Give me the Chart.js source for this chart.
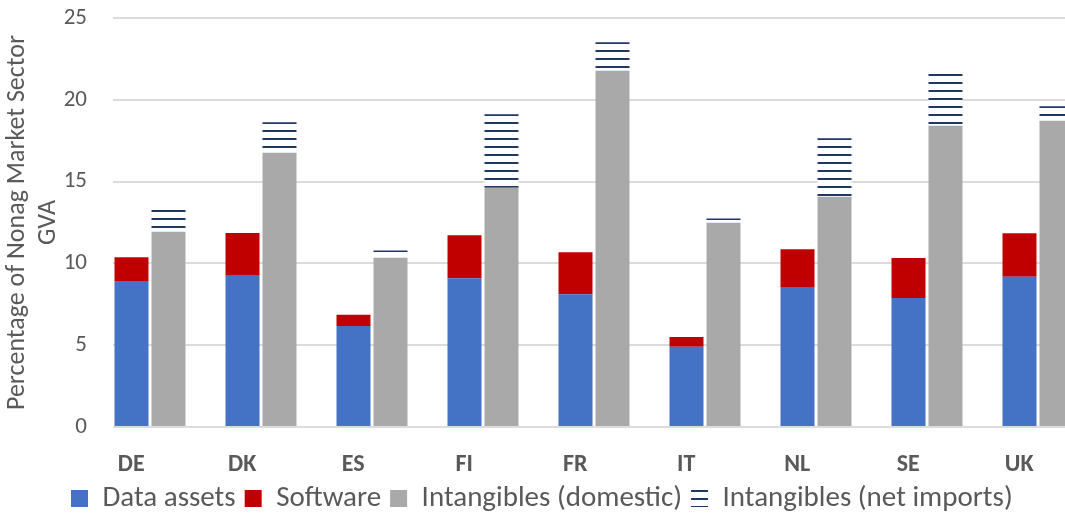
<!DOCTYPE html>
<html>
<head>
<meta charset="utf-8">
<script src="https://cdn.jsdelivr.net/npm/chart.js@4/dist/chart.umd.min.js"></script>
<style>
  html, body { margin: 0; padding: 0; background: #ffffff; overflow: hidden; }
  #wrap { position: absolute; left: 0; top: 0; width: 1114px; height: 517px; }
</style>
</head>
<body>
<div id="wrap"><canvas id="chart" width="1114" height="517"></canvas></div>
<script>
// Intangible investment by country, % of non-agricultural market sector GVA
const countries = ['DE', 'DK', 'ES', 'FI', 'FR', 'IT', 'NL', 'SE', 'UK'];
const dataAssets = [8.92, 9.29, 6.17, 9.09, 8.11, 4.91, 8.56, 7.89, 9.19];
const software = [1.45, 2.57, 0.69, 2.63, 2.57, 0.59, 2.30, 2.44, 2.65];
const intangiblesDomestic = [11.94, 16.77, 10.35, 14.63, 21.78, 12.49, 14.08, 18.42, 18.72];
const intangiblesNetImports = [1.32, 1.86, 0.44, 4.49, 1.74, 0.25, 3.57, 3.15, 0.89];
const yTicks = [0, 5, 10, 15, 20, 25];

const FONT = 'Calibri, Carlito, Lato, sans-serif';
const TEXT = '#595959';

// Horizontal-line hatch for the net imports segments
function hatch() {
  const c = document.createElement('canvas');
  c.width = 8; c.height = 8;
  const g = c.getContext('2d');
  g.fillStyle = '#ffffff';
  g.fillRect(0, 0, 8, 8);
  g.fillStyle = '#1f3864';
  g.fillRect(0, 2, 8, 2);
  return g.createPattern(c, 'repeat');
}
const ctx = document.getElementById('chart').getContext('2d');

const LEGEND_FONT = 29, LEGEND_PAD = 9;

// Place the legend row under the category labels
const legendPlacement = {
  id: 'legendPlacement',
  afterLayout(chart) {
    const lg = chart.legend;
    if (!lg) return;
    const w = lg.right - lg.left;
    lg.left = 71 - LEGEND_PAD; lg.right = lg.left + w;
    lg.top = 484 - LEGEND_PAD; lg.bottom = lg.top + 40;
  }
};

new Chart(ctx, {
  type: 'bar',
  data: {
    labels: countries,
    datasets: [
      { label: 'Data assets', data: dataAssets, backgroundColor: '#4472c4', stack: 'a', borderWidth: 0 },
      { label: 'Software', data: software, backgroundColor: '#c00000', stack: 'a', borderWidth: 0 },
      { label: 'Intangibles (domestic)', data: intangiblesDomestic, backgroundColor: '#a9a9a9', stack: 'b', borderWidth: 0 },
      { label: 'Intangibles (net imports)', data: intangiblesNetImports, backgroundColor: hatch(), stack: 'b', borderWidth: 0 },
      { label: '', data: countries.map(() => 0), backgroundColor: 'rgba(0,0,0,0)', stack: 'c', borderWidth: 0 }
    ]
  },
  options: {
    responsive: false,
    animation: false,
    categoryPercentage: 1.0,
    barPercentage: 34 / 37,
    layout: { padding: { left: 0, right: 2, top: 18, bottom: 0 } },
    plugins: {
      tooltip: { enabled: false },
      legend: {
        position: 'bottom',
        align: 'start',
        maxHeight: 1,
        labels: {
          filter: (item) => item.text !== '',
          boxWidth: 17,
          boxHeight: 17,
          padding: LEGEND_PAD,
          color: TEXT,
          font: { family: FONT, size: LEGEND_FONT }
        }
      }
    },
    scales: {
      x: {
        stacked: true,
        grid: { display: false },
        border: { display: false },
        ticks: {
          color: TEXT,
          padding: 16,
          labelOffset: -37.3,
          font: { family: FONT, size: 24, weight: 'bold' }
        },
        afterFit: (s) => { s.height = 89; s.paddingLeft = 0; s.paddingRight = 0; }
      },
      y: {
        stacked: true,
        min: 0,
        max: 25,
        afterBuildTicks: (s) => { s.ticks = yTicks.map(v => ({ value: v })); },
        afterFit: (s) => { s.width = 113; s.paddingTop = 0; s.paddingBottom = 0; },
        grid: { color: '#dcdcdc', lineWidth: 2, drawTicks: false },
        border: { display: false },
        ticks: {
          color: TEXT,
          padding: 26,
          font: { family: FONT, size: 23 }
        },
        title: {
          display: true,
          text: ['Percentage of Nonag Market Sector', 'GVA'],
          color: TEXT,
          padding: { top: 2, bottom: 0 },
          font: { family: FONT, size: 26, lineHeight: 1.2 }
        }
      }
    }
  },
  plugins: [legendPlacement]
});
</script>
</body>
</html>
